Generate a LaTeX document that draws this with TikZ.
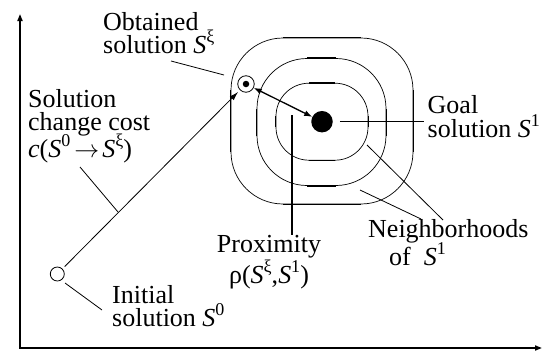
\documentclass[tikz,border=0pt]{standalone}
\usepackage{fontspec}
\setmainfont{Liberation Serif}
\usetikzlibrary{arrows.meta}
\newcommand\sps[1]{\raisebox{0.4em}{\fontsize{18}{18}\selectfont #1}}
\newcommand\Sv{\textit{S}}
\newcommand\lblfont{\fontsize{26}{23}\selectfont\lineskiplimit=-100pt\relax}
\begin{document}
\begin{tikzpicture}[x=1pt,y=-1pt,
  lbl/.style={inner sep=0pt, font=\lblfont, align=left},
  nbhd/.style={draw, line width=0.7pt, inner sep=0pt},
  edge/.style={line width=1.5pt},
  conn/.style={line width=0.8pt},
  ]
\useasboundingbox (0,0) rectangle (542,351);

% axes
\coordinate (ytop) at (20,14);
\coordinate (orig) at (20,348);
\coordinate (xend) at (542,348);
\draw[line width=1.6pt, {Triangle[length=7pt,width=5pt]}-{Triangle[length=7pt,width=5pt]}] (ytop) -- (orig) -- (xend);

% neighborhoods
\node[nbhd, rounded corners=52pt, minimum width=182pt, minimum height=166pt] (outer) at (322,121) {};
\node[nbhd, rounded corners=50pt, minimum width=129pt, minimum height=127pt] (middle) at (321.5,122) {};
\node[nbhd, rounded corners=33pt, minimum width=92pt, minimum height=77pt] (inner) at (322,121.7) {};

\draw[edge] ([xshift=-39pt]outer.north) -- ([xshift=39pt]outer.north);
\draw[edge] ([xshift=-39pt]outer.south) -- ([xshift=39pt]outer.south);
\draw[edge] ([yshift=-31pt]outer.west) -- ([yshift=31pt]outer.west);
\draw[edge] ([yshift=-31pt]outer.east) -- ([yshift=31pt]outer.east);
\draw[edge] ([xshift=-14.5pt]middle.north) -- ([xshift=14.5pt]middle.north);
\draw[edge] ([xshift=-14.5pt]middle.south) -- ([xshift=14.5pt]middle.south);
\draw[edge] ([yshift=-13.5pt]middle.west) -- ([yshift=13.5pt]middle.west);
\draw[edge] ([yshift=-13.5pt]middle.east) -- ([yshift=13.5pt]middle.east);
\draw[edge] ([xshift=-13pt]inner.north) -- ([xshift=13pt]inner.north);
\draw[edge] ([xshift=-13pt]inner.south) -- ([xshift=13pt]inner.south);
\draw[edge] ([yshift=-5.5pt]inner.west) -- ([yshift=5.5pt]inner.west);
\draw[edge] ([yshift=-5.5pt]inner.east) -- ([yshift=5.5pt]inner.east);

% solutions
\node[circle, fill=black, minimum size=21.5pt, inner sep=0pt] (goal) at (322,121.7) {};
\node[circle, draw, line width=0.8pt, minimum size=16.5pt, inner sep=0pt] (obt) at (246,84) {};
\node[circle, fill=black, minimum size=6.5pt, inner sep=0pt] (obtdot) at (obt) {};
\node[circle, draw, line width=0.8pt, minimum size=14pt, inner sep=0pt] (init) at (57.3,274) {};

\draw[conn, -{Latex[length=9pt,width=5.5pt]}, shorten <=3pt, shorten >=2.5pt] (init) -- (obt);
\draw[line width=1.3pt, {Latex[length=8pt,width=6pt]}-{Latex[length=8pt,width=6pt]}] (obt) -- (goal);

% labels (anchor base = baseline of the last line)
\node[lbl, anchor=base west] (obttext) at (103,53) {Obtained\\solution \Sv\sps{ξ}};
\node[lbl, anchor=base west] (costtext) at (28,157) {Solution\\change cost\\[4pt]\textit{c}(\Sv\sps{0}\hspace{4pt}$\rightarrow$\hspace{3pt}\Sv\sps{ξ})};
\node[lbl, anchor=base west] (inittext) at (112,326) {Initial\\solution \Sv\sps{0}};
\node[lbl, anchor=base west] (goaltext) at (427.5,137) {Goal\\[1pt]solution \Sv\sps{1}};
\node[lbl, align=center, anchor=base] (proxtext) at (269,283) {Proximity\\[8pt]ρ(\Sv\sps{ξ},\Sv\sps{1})};
\node[lbl, anchor=base west] (neightext) at (368,265) {Neighborhoods\\[5pt]\hspace*{21pt}of\ \ \Sv\sps{1}};

% connectors
\coordinate (obtA) at (171,61);
\coordinate (obtB) at (224,75);
\draw[conn] (obtA) -- (obtB);
\coordinate (costA) at (80,167);
\coordinate (costB) at (118,212);
\draw[conn] (costA) -- (costB);
\coordinate (initA) at (65,283);
\coordinate (initB) at (102,310);
\draw[conn] (initA) -- (initB);
\coordinate (goalB) at (424,121.7);
\draw[edge] ([xshift=7pt]goal.east) -- (goalB);
\coordinate (proxA) at (292,115);
\coordinate (proxB) at (292,235);
\draw[edge] (proxA) -- (proxB);
\coordinate (nA) at (360,190);
\coordinate (nB) at (421,219);
\draw[conn] (nA) -- (nB);
\coordinate (nC) at (367,145);
\coordinate (nD) at (443,220);
\draw[conn] (nC) -- (nD);
\end{tikzpicture}
\end{document}
